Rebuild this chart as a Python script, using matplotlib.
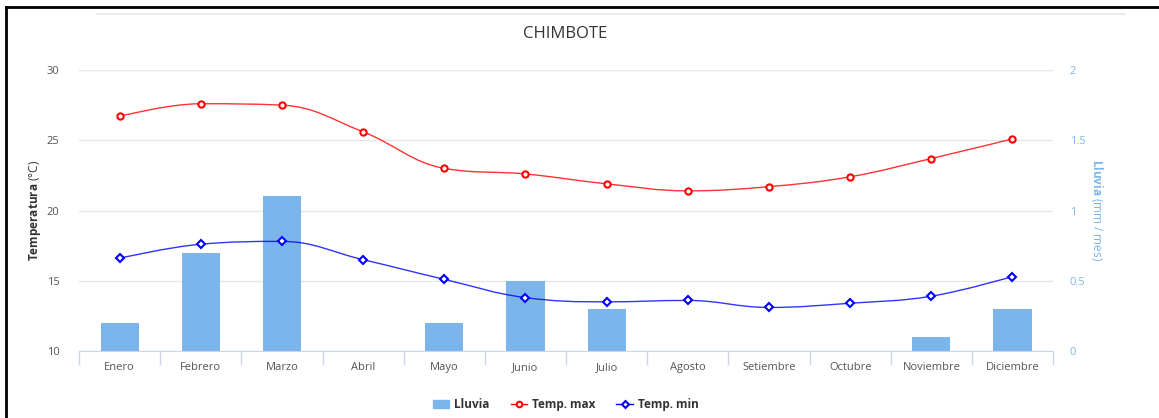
import numpy as np
import matplotlib
matplotlib.use("Agg")
import matplotlib.pyplot as plt
from matplotlib.path import Path
from matplotlib.patches import PathPatch
from matplotlib.lines import Line2D

plt.rcParams['font.family'] = ['Open Sans', 'DejaVu Sans']
plt.rcParams['mathtext.fontset'] = 'custom'
plt.rcParams['mathtext.bf'] = 'Open Sans:bold'
plt.rcParams['mathtext.rm'] = 'Open Sans'

meses = ["Enero", "Febrero", "Marzo", "Abril", "Mayo", "Junio", "Julio",
         "Agosto", "Setiembre", "Octubre", "Noviembre", "Diciembre"]
temp_max = [26.7, 27.6, 27.5, 25.6, 23.0, 22.6, 21.9, 21.4, 21.7, 22.4, 23.7, 25.1]
temp_min = [16.6, 17.6, 17.8, 16.5, 15.1, 13.8, 13.5, 13.6, 13.1, 13.4, 13.9, 15.3]
lluvia = [0.2, 0.7, 1.1, 0, 0.2, 0.5, 0.3, 0, 0, 0, 0.1, 0.3]

bar_color = "#7cb5ec"
red = "#ff0000"
blue = "#0000ff"


def spline_path(xs, ys, smoothing=1.5):
    # highcharts-style spline, cubic bezier segments between the data points
    n = len(xs)
    denom = smoothing + 1
    left = [(xs[i], ys[i]) for i in range(n)]
    right = [(xs[i], ys[i]) for i in range(n)]
    for i in range(1, n - 1):
        x, y = xs[i], ys[i]
        lx, ly = xs[i - 1], ys[i - 1]
        nx, ny = xs[i + 1], ys[i + 1]
        lcx = (smoothing * x + lx) / denom
        lcy = (smoothing * y + ly) / denom
        rcx = (smoothing * x + nx) / denom
        rcy = (smoothing * y + ny) / denom
        corr = ((rcy - lcy) * (rcx - x)) / (rcx - lcx) + y - rcy
        lcy += corr
        rcy += corr
        if lcy > ly and lcy > y:
            lcy = max(ly, y)
            rcy = 2 * y - lcy
        elif lcy < ly and lcy < y:
            lcy = min(ly, y)
            rcy = 2 * y - lcy
        if rcy > ny and rcy > y:
            rcy = max(ny, y)
            lcy = 2 * y - rcy
        elif rcy < ny and rcy < y:
            rcy = min(ny, y)
            lcy = 2 * y - rcy
        left[i] = (lcx, lcy)
        right[i] = (rcx, rcy)
    verts = [(xs[0], ys[0])]
    codes = [Path.MOVETO]
    for i in range(1, n):
        verts += [right[i - 1], left[i], (xs[i], ys[i])]
        codes += [Path.CURVE4] * 3
    return Path(verts, codes)


fig = plt.figure(figsize=(11.59, 4.18), dpi=100)
ax2 = fig.add_axes([0.0682, 0.1603, 0.9086 - 0.0682, 0.8325 - 0.1603])
ax = ax2.twinx()
ax.yaxis.tick_left()
ax.yaxis.set_label_position("left")
ax2.yaxis.tick_right()
ax2.yaxis.set_label_position("right")
ax.set_zorder(ax2.get_zorder() + 1)
ax.patch.set_visible(False)

x = np.arange(len(meses))

ax2.bar(x, lluvia, width=0.47, color=bar_color, zorder=2)
ax2.set_ylim(0, 2)
ax2.set_yticks([0, 0.5, 1, 1.5, 2])
ax2.set_yticklabels(["0", "0.5", "1", "1.5", "2"])
ax2.grid(axis="y", color="#e6e6e6", linewidth=1, zorder=0)
ax2.set_axisbelow(True)
ax2.tick_params(axis="y", length=0, labelsize=8, labelcolor=bar_color, pad=12)
ax2.set_ylabel(r"$\bf{Lluvia}$ (mm / mes)", color=bar_color, fontsize=8.5,
               rotation=270, labelpad=14)

for vals, col, mk in [(temp_max, red, "o"), (temp_min, blue, "D")]:
    ax.add_patch(PathPatch(spline_path(x, vals), facecolor="none",
                           edgecolor=col, linewidth=1, alpha=0.8, zorder=3))
    ax.plot(x, vals, linestyle="none", marker=mk, markersize=4.5 if mk == "o" else 4,
            markerfacecolor="white", markeredgecolor=col, markeredgewidth=1.5, zorder=4)

ax.set_ylim(10, 30)
ax.set_yticks([10, 15, 20, 25, 30])
ax.tick_params(axis="y", length=0, labelsize=8, labelcolor="#555555", pad=14)
ax.set_ylabel(r"$\bf{Temperatura}$ (°C)", color="#333333", fontsize=8.5, labelpad=3)

ax2.set_xlim(-0.5, len(meses) - 0.5)
ax2.set_xticks(x)
ax2.set_xticklabels(meses)
ax2.set_xticks(np.arange(-0.5, len(meses)), minor=True)
ax2.tick_params(axis="x", which="major", length=0, labelsize=8, labelcolor="#555555", pad=8)
ax2.tick_params(axis="x", which="minor", length=10, color="#ccd6eb", width=1)
ax.tick_params(axis="x", which="both", length=0, labelbottom=False)

for a in (ax, ax2):
    for s in ["top", "left", "right", "bottom"]:
        a.spines[s].set_visible(False)
ax2.spines["bottom"].set_visible(True)
ax2.spines["bottom"].set_color("#ccd6eb")

fig.text(0.488, 0.918, "CHIMBOTE", ha="center", va="center", fontsize=12, color="#333333")

handles = [
    plt.Rectangle((0, 0), 1, 1, color=bar_color),
    Line2D([0], [0], color=red, lw=1, marker="o", markersize=4,
           markerfacecolor="white", markeredgecolor=red, markeredgewidth=1.5),
    Line2D([0], [0], color=blue, lw=1, marker="D", markersize=3.5,
           markerfacecolor="white", markeredgecolor=blue, markeredgewidth=1.5),
]
leg = fig.legend(handles, ["Lluvia", "Temp. max", "Temp. min"], loc="center",
                 bbox_to_anchor=(0.488, 0.032), ncol=3, frameon=False,
                 prop={"weight": "bold", "size": 8.5}, handlelength=1.4,
                 handletextpad=0.4, columnspacing=1.8)
for t in leg.get_texts():
    t.set_color("#333333")

# frame of the screenshot
fig.add_artist(Line2D([6 / 1159, 6 / 1159], [0, 1 - 7 / 418], color="black", lw=2))
fig.add_artist(Line2D([6 / 1159, 1], [1 - 7 / 418, 1 - 7 / 418], color="black", lw=2))
fig.add_artist(Line2D([97 / 1159, 1125 / 1159], [1 - 14 / 418, 1 - 14 / 418],
                      color="#e4e9ef", lw=1.2))

fig.savefig("out.png", dpi=100)
